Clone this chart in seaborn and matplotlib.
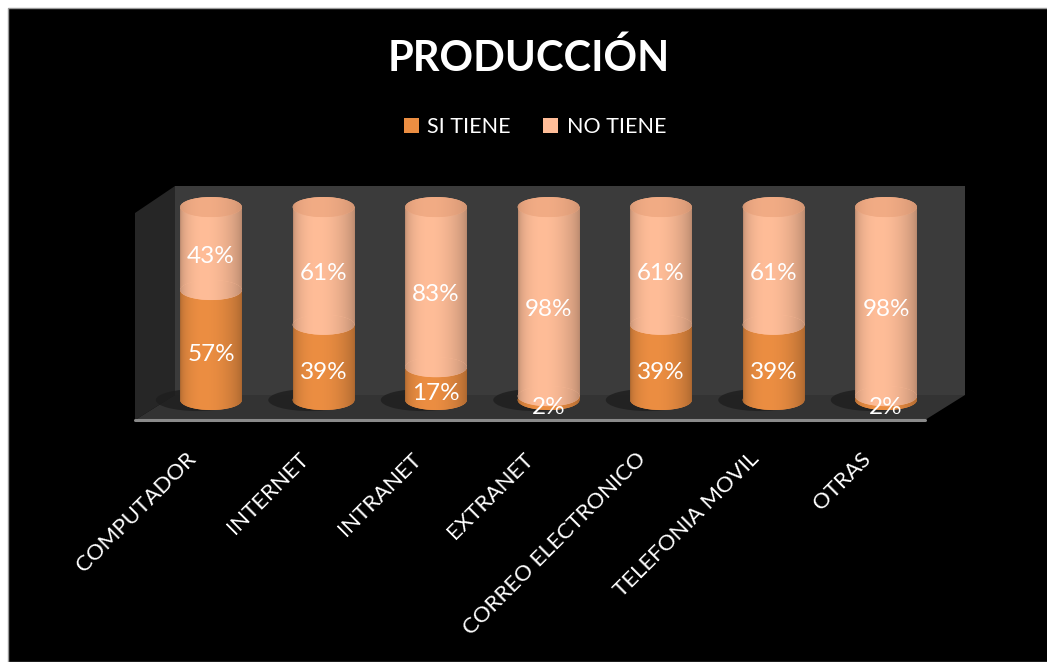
import numpy as np
import pandas as pd
import matplotlib
matplotlib.use("Agg")
import matplotlib.pyplot as plt
from matplotlib.patches import Ellipse, Polygon, Rectangle, Patch
from matplotlib.lines import Line2D
from matplotlib.transforms import ScaledTranslation
from matplotlib.colors import to_rgb
import seaborn as sns

# ---- data -------------------------------------------------------------
categorias = ["COMPUTADOR", "INTERNET", "INTRANET", "EXTRANET",
              "CORREO ELECTRONICO", "TELEFONIA MOVIL", "OTRAS"]
si_tiene = [57, 39, 17, 2, 39, 39, 2]
no_tiene = [43, 61, 83, 98, 61, 61, 98]
series = ["SI TIENE", "NO TIENE"]
titulo = "PRODUCCIÓN"

# ---- style ------------------------------------------------------------
ORANGE = "#ec8e42"
PEACH = "#ffbd98"
CAP = "#f2ac85"
WHITE = "#ffffff"

sns.set_theme(style="white")
plt.rcParams["font.family"] = ["Lato", "DejaVu Sans"]

W, H = 1047, 662
fig = plt.figure(figsize=(W / 100, H / 100), dpi=100, facecolor="white")
fig.add_artist(Rectangle((8 / W, 0), 1, 1 - 8 / H, transform=fig.transFigure,
                         facecolor="black", edgecolor="#9a9a9a", lw=1.0, zorder=0))

ax = fig.add_axes([135 / W, (H - 420) / H, 830 / W, 234 / H])
ax.set_facecolor("none")

df = pd.DataFrame({"categoria": categorias, "si": si_tiene, "no": no_tiene})
df["total"] = df["si"] + df["no"]

BAR_W = 0.55
sns.barplot(data=df, x="categoria", y="total", color=PEACH, saturation=1,
            width=BAR_W, errorbar=None, ax=ax, zorder=2, linewidth=0)
sns.barplot(data=df, x="categoria", y="si", color=ORANGE, saturation=1,
            width=BAR_W, errorbar=None, ax=ax, zorder=3, linewidth=0)

XLIM = (-0.676, 6.702)
YLIM = (-10.36, 110.9)
ax.set_xlim(*XLIM)
ax.set_ylim(*YLIM)

# ---- 3D box: back wall, side wall and floor ---------------------------
wx = 40 / 830
fy = 25 / 234
ax.add_patch(Polygon([(wx, fy), (1, fy), (1, 1), (wx, 1)], closed=True,
                     transform=ax.transAxes, facecolor="#3b3b3b", lw=0, zorder=0))
ax.add_patch(Polygon([(0, 0), (wx, fy), (wx, 1), (0, 1 - 27 / 234)], closed=True,
                     transform=ax.transAxes, facecolor="#262626", lw=0, zorder=0))
ax.add_patch(Polygon([(0, 0), (wx, fy), (1, fy), (1 - wx, 0)], closed=True,
                     transform=ax.transAxes, facecolor="#333333", lw=0, zorder=0.2))
ax.add_line(Line2D([0, 1 - wx], [0, 0], transform=ax.transAxes,
                   color="#8a8a8a", lw=2.2, zorder=0.3, clip_on=False))

# ---- cylinder shading -------------------------------------------------
def shade(color, edge=0.72, n=96):
    u = np.linspace(0, 1, n)
    s = np.sin(np.pi * u ** 0.75) ** 0.6
    f = edge + (1 - edge) * s
    rgb = np.clip(np.array(to_rgb(color))[None, :] * f[:, None], 0, 1)
    return rgb[None, :, :]


def paint(patch, color, x0, x1, y0, y1, edge=0.72):
    im = ax.imshow(shade(color, edge), extent=[x0, x1, y0, y1], aspect="auto",
                   interpolation="bilinear", zorder=patch.get_zorder() + 0.01)
    im.set_clip_path(patch)


E = 5.2  # half height of the cylinder ellipses, in value units
rects = [p for p in ax.patches if isinstance(p, Rectangle)]
n = len(categorias)
tot_bars = rects[:n]
si_bars = rects[n:2 * n]

for tb, sb, si, no in zip(tot_bars, si_bars, si_tiene, no_tiene):
    x0 = tb.get_x()
    w = tb.get_width()
    x1 = x0 + w
    xc = x0 + w / 2
    top = tb.get_height()
    cut = sb.get_height()

    # soft floor shadow
    ax.add_patch(Ellipse((xc - 0.12, 0), w * 1.35, 2 * E * 1.1,
                         facecolor="#1e1e1e", alpha=0.8, lw=0, zorder=0.5))

    # peach body
    tb.set_zorder(2)
    paint(tb, PEACH, x0, x1, 0, top)

    # orange base and body
    base = Ellipse((xc, 0), w, 2 * E, facecolor=ORANGE, lw=0, zorder=3)
    ax.add_patch(base)
    paint(base, ORANGE, x0, x1, -E, E)
    sb.set_zorder(3.1)
    paint(sb, ORANGE, x0, x1, 0, cut)

    # boundary between the two segments
    mid = Ellipse((xc, cut), w, 2 * E, facecolor=PEACH, lw=0, zorder=4)
    ax.add_patch(mid)
    paint(mid, PEACH, x0, x1, cut - E, cut + E)

    # top cap
    cap = Ellipse((xc, top), w, 2 * E, facecolor=CAP, lw=0, zorder=5)
    ax.add_patch(cap)
    paint(cap, CAP, x0, x1, top - E, top + E, edge=0.85)

    # value labels
    ax.text(xc, cut / 2 - 5, f"{si}%", ha="center", va="center",
            color=WHITE, fontsize=17.5, zorder=10)
    ax.text(xc, cut + no / 2 - 4, f"{no}%", ha="center", va="center",
            color=WHITE, fontsize=17.5, zorder=10)

ax.set_xlim(*XLIM)
ax.set_ylim(*YLIM)

# ---- axes cosmetics ---------------------------------------------------
for sp in ax.spines.values():
    sp.set_visible(False)
ax.set_yticks([])
ax.set_xlabel("")
ax.set_ylabel("")
ax.tick_params(axis="x", length=0, pad=26)
ax.set_xticks(range(n))
ax.set_xticklabels(categorias, rotation=45, ha="right", rotation_mode="anchor",
                   color=WHITE, fontsize=16)
shift = ScaledTranslation(-18 / 100, 0, fig.dpi_scale_trans)
for lab in ax.get_xticklabels():
    lab.set_va("center")
    lab.set_transform(lab.get_transform() + shift)

# ---- title and legend -------------------------------------------------
fig.text(529 / W, 1 - 58 / H, titulo, ha="center", va="center",
         color=WHITE, fontsize=30, fontweight="bold")
handles = [Patch(facecolor=ORANGE, edgecolor="none"),
           Patch(facecolor=PEACH, edgecolor="none")]
fig.legend(handles, series, loc="center", bbox_to_anchor=(535 / W, 1 - 127 / H),
           ncol=2, frameon=False, fontsize=15.5, labelcolor=WHITE,
           handlelength=0.7, handleheight=0.7, handletextpad=0.4,
           columnspacing=1.5)

fig.savefig("out.png", dpi=100, facecolor=fig.get_facecolor())
